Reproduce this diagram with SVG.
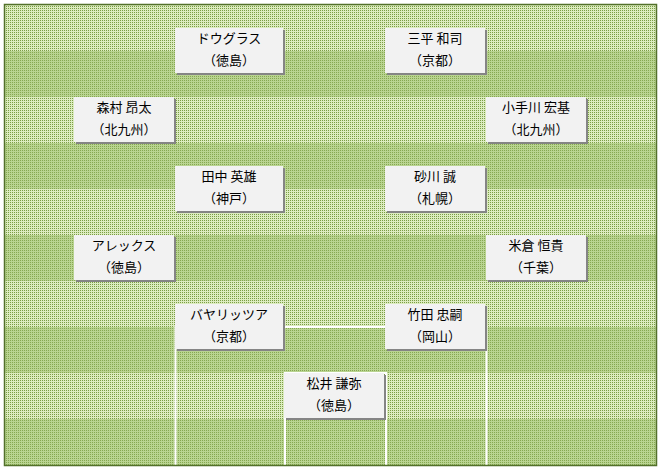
<svg xmlns="http://www.w3.org/2000/svg" width="661" height="471" viewBox="0 0 661 471">
<defs>
<pattern id="pl" width="2" height="2" patternUnits="userSpaceOnUse">
<rect width="2" height="2" fill="#dcecbf"/>
<rect width="1" height="1" fill="#7a9d44"/>
</pattern>
<pattern id="pd" width="2" height="2" patternUnits="userSpaceOnUse">
<rect width="2" height="2" fill="#b9d491"/>
<rect width="1" height="1" fill="#86a851"/>
</pattern>
<style>
.sh{fill:#858585}
.bx{fill:#f2f2f2}
.t{font-family:"Noto Sans CJK JP","Noto Sans",sans-serif;font-size:13px;fill:#000;text-anchor:middle}
.ln{fill:none;stroke:#ffffff;stroke-width:2}
</style>
</defs>
<g id="field">
<rect x="5" y="5" width="651" height="460" fill="url(#pl)"/>
<rect x="5" y="51" width="651" height="46" fill="url(#pd)"/>
<rect x="5" y="143" width="651" height="46" fill="url(#pd)"/>
<rect x="5" y="235" width="651" height="46" fill="url(#pd)"/>
<rect x="5" y="327" width="651" height="46" fill="url(#pd)"/>
<rect x="5" y="419" width="651" height="46" fill="url(#pd)"/>
<path class="ln" d="M175.5 466V327H486.5V466"/>
<path class="ln" d="M285 466V373H386V466"/>
<rect x="4.5" y="4.5" width="652" height="461" fill="none" stroke="#52702a" stroke-width="1.5"/>
</g>
<g id="douglas">
<rect class="sh" x="177" y="30" width="108" height="45"/><rect class="bx" x="175" y="28" width="108" height="45"/>
<text class="t" x="229" y="42.5">ドウグラス</text><text class="t" x="229" y="64.5">（徳島）</text>
</g>
<g id="sanpei">
<rect class="sh" x="387" y="30" width="100" height="45"/><rect class="bx" x="385" y="28" width="100" height="45"/>
<text class="t" x="435" y="42.5">三平 和司</text><text class="t" x="435" y="64.5">（京都）</text>
</g>
<g id="morimura">
<rect class="sh" x="76" y="99" width="100" height="45"/><rect class="bx" x="74" y="97" width="100" height="45"/>
<text class="t" x="124" y="111.5">森村 昂太</text><text class="t" x="124" y="133.5">（北九州）</text>
</g>
<g id="kotegawa">
<rect class="sh" x="488" y="99" width="100" height="45"/><rect class="bx" x="486" y="97" width="100" height="45"/>
<text class="t" x="536" y="111.5">小手川 宏基</text><text class="t" x="536" y="133.5">（北九州）</text>
</g>
<g id="tanaka">
<rect class="sh" x="177" y="168" width="108" height="45"/><rect class="bx" x="175" y="166" width="108" height="45"/>
<text class="t" x="229" y="180.5">田中 英雄</text><text class="t" x="229" y="202.5">（神戸）</text>
</g>
<g id="sunagawa">
<rect class="sh" x="387" y="168" width="100" height="45"/><rect class="bx" x="385" y="166" width="100" height="45"/>
<text class="t" x="435" y="180.5">砂川 誠</text><text class="t" x="435" y="202.5">（札幌）</text>
</g>
<g id="alex">
<rect class="sh" x="76" y="237" width="100" height="45"/><rect class="bx" x="74" y="235" width="100" height="45"/>
<text class="t" x="124" y="249.5">アレックス</text><text class="t" x="124" y="271.5">（徳島）</text>
</g>
<g id="yonekura">
<rect class="sh" x="488" y="237" width="100" height="45"/><rect class="bx" x="486" y="235" width="100" height="45"/>
<text class="t" x="536" y="249.5">米倉 恒貴</text><text class="t" x="536" y="271.5">（千葉）</text>
</g>
<g id="bayaritsa">
<rect class="sh" x="177" y="306" width="108" height="45"/><rect class="bx" x="175" y="304" width="108" height="45"/>
<text class="t" x="229" y="318.5">バヤリッツア</text><text class="t" x="229" y="340.5">（京都）</text>
</g>
<g id="takeda">
<rect class="sh" x="387" y="306" width="100" height="45"/><rect class="bx" x="385" y="304" width="100" height="45"/>
<text class="t" x="435" y="318.5">竹田 忠嗣</text><text class="t" x="435" y="340.5">（岡山）</text>
</g>
<g id="matsui">
<rect class="sh" x="286" y="375" width="100" height="45"/><rect class="bx" x="284" y="373" width="100" height="45"/>
<text class="t" x="334" y="387.5">松井 謙弥</text><text class="t" x="334" y="409.5">（徳島）</text>
</g>
</svg>
